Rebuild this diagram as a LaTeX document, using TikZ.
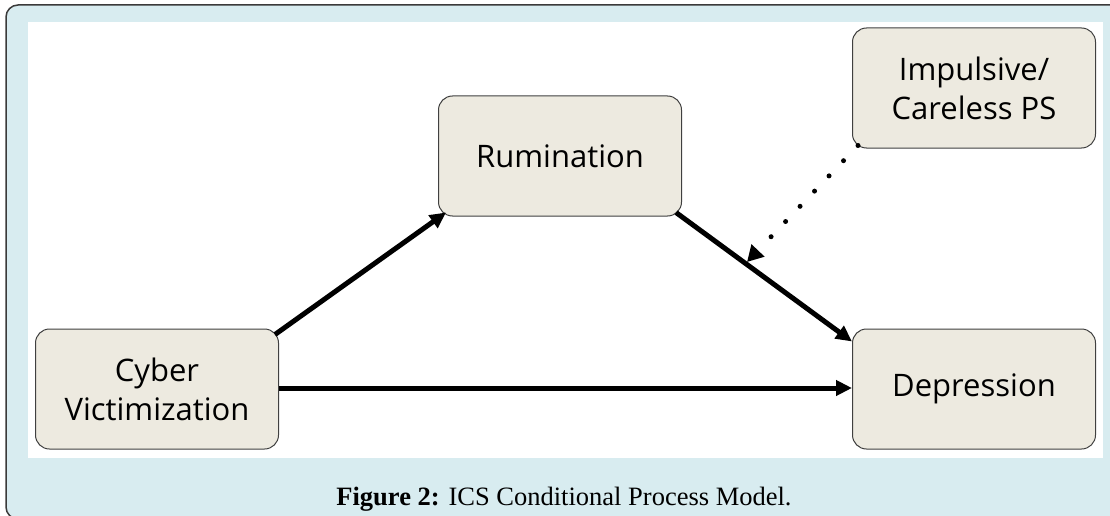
\documentclass[tikz,border=0pt]{standalone}
\usepackage{fontspec}
\setmainfont{Liberation Serif}
\newfontfamily\boxfont{Open Sans}
\usetikzlibrary{arrows.meta,calc}
\definecolor{panelblue}{HTML}{D8ECF0}
\definecolor{boxfill}{HTML}{EDEAE0}
\definecolor{framegray}{HTML}{3A3A3A}
\tikzset{
  varbox/.style={draw=black!75, line width=1pt, fill=boxfill, rounded corners=14pt,
    minimum width=243pt, minimum height=120pt, align=center, inner sep=0pt,
    font=\boxfont\fontsize{31}{39}\selectfont},
  patharrow/.style={line width=5pt, -{Triangle[length=16pt,width=15pt]}},
  modarrow/.style={line width=5pt, dash pattern=on 0pt off 21pt, line cap=round,
    -{Triangle[length=16pt,width=17pt,line cap=butt]}}
}
\begin{document}
\begin{tikzpicture}[x=1pt,y=-1pt]
\useasboundingbox (0,0) rectangle (1110,516);
\begin{scope}
\clip (0,0) rectangle (1110,516);
\draw[framegray, line width=1.5pt, fill=panelblue, rounded corners=12pt] (6,5) rectangle (1130,519);
\end{scope}
\fill[white] (28,22) rectangle (1103,458);
\node[varbox] (cv) at (157,389) {Cyber\\Victimization};
\node[varbox] (ru) at (560,156) {Rumination};
\node[varbox] (im) at (974,88) {Impulsive/\\Careless PS};
\node[varbox] (de) at (974,389) {Depression};
\draw[patharrow] ($(cv.north east)+(-4,6)$) -- ($(ru.south west)+(8,-4)$);
\draw[patharrow] (cv.east |- 0,388) -- (de.west |- 0,388);
\draw[patharrow] ($(ru.south east)+(-6,-4)$) -- ($(de.north west)+(0,13)$);
\coordinate (mt) at (747,262);
\draw[modarrow] ($(im.south west)+(6,-3)$) -- (mt);
\node[font=\fontsize{26.5}{30}\selectfont, anchor=base, inner sep=0pt] (cap) at (564,505) {\textbf{Figure 2:} ICS Conditional Process Model.};
\end{tikzpicture}
\end{document}
